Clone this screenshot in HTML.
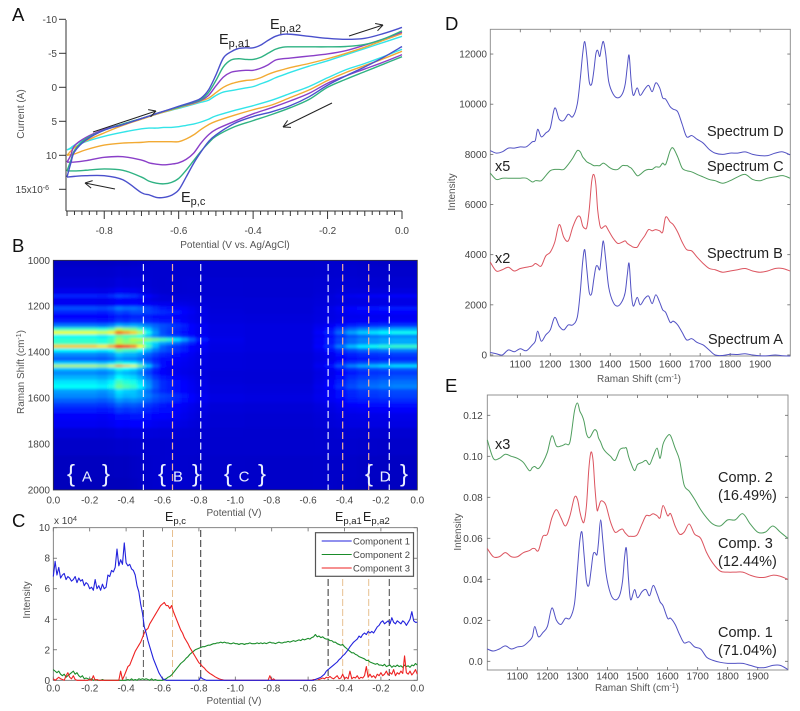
<!DOCTYPE html>
<html lang="en">
<head>
<meta charset="utf-8">
<title>Electrochemical SERS figure</title>
<style>
html,body{margin:0;padding:0;background:#fff;}
#figure{display:block;width:800px;height:711px;filter:blur(0.35px);font-family:"Liberation Sans",sans-serif;}
.tick{font-size:10px;fill:#444;}
.legend-text{font-size:9.5px;fill:#444;}
.title{font-size:10px;fill:#555;}
.big{font-size:18.5px;fill:#111;}
.ep{font-size:14.5px;fill:#222;}
.sub{font-size:11px;}
.ep-small{font-size:12.5px;fill:#222;}
.sub-small{font-size:9.5px;}
.note{font-size:14.5px;fill:#222;}
</style>
</head>
<body>
<svg id="figure" xmlns="http://www.w3.org/2000/svg" width="800" height="711" viewBox="0 0 800 711">
  <defs>
    <clipPath id="heat-clip"><rect x="53.3" y="260.3" width="364" height="229.7"/></clipPath>
    <filter id="heat-blur" x="-5%" y="-5%" width="110%" height="110%"><feGaussianBlur stdDeviation="1.6 1.2"/></filter>
  </defs>
  <rect x="0" y="0" width="800" height="711" fill="#fff"/>
  <g id="panel-a">
    <text class="big" x="12" y="21">A</text>
    <text class="title" transform="translate(24,114) rotate(-90)" text-anchor="middle">Current (A)</text>
    <text class="title" x="235" y="248" text-anchor="middle">Potential (V vs. Ag/AgCl)</text>
    <text class="ep" x="219" y="44">E<tspan class="sub" dy="3">p,a1</tspan></text>
    <text class="ep" x="270" y="29">E<tspan class="sub" dy="3">p,a2</tspan></text>
    <text class="ep" x="181" y="202">E<tspan class="sub" dy="3">p,c</tspan></text>
  </g>
  <g id="panel-b">
    <text class="big" x="12" y="252">B</text>
    <text class="title" transform="translate(24,372) rotate(-90)" text-anchor="middle">Raman Shift (cm<tspan dy="-3" font-size="7">-1</tspan><tspan dy="3">)</tspan></text>
    <text class="title" x="234" y="516" text-anchor="middle">Potential (V)</text>
  </g>
  <g id="panel-c">
    <text class="big" x="12" y="527">C</text>
    <text class="tick" x="54" y="524">x 10<tspan dy="-3" font-size="7.5">4</tspan></text>
    <text class="title" transform="translate(30,600) rotate(-90)" text-anchor="middle">Intensity</text>
    <text class="title" x="234" y="704" text-anchor="middle">Potential (V)</text>
    <text class="ep-small" x="165" y="521">E<tspan class="sub-small" dy="3">p,c</tspan></text>
    <text class="ep-small" x="335" y="521">E<tspan class="sub-small" dy="3">p,a1</tspan></text>
    <text class="ep-small" x="363" y="521">E<tspan class="sub-small" dy="3">p,a2</tspan></text>
  </g>
  <g id="panel-d">
    <text class="big" x="445" y="30">D</text>
    <text class="title" transform="translate(455,192) rotate(-90)" text-anchor="middle">Intensity</text>
    <text class="title" x="639" y="382" text-anchor="middle">Raman Shift (cm<tspan dy="-3" font-size="7">-1</tspan><tspan dy="3">)</tspan></text>
    <text class="note" x="707" y="136">Spectrum D</text>
    <text class="note" x="707" y="171">Spectrum C</text>
    <text class="note" x="707" y="258">Spectrum B</text>
    <text class="note" x="708" y="344">Spectrum A</text>
    <text class="note" x="495" y="171">x5</text>
    <text class="note" x="495" y="263">x2</text>
  </g>
  <g id="panel-e">
    <text class="big" x="445" y="392">E</text>
    <text class="title" transform="translate(461,532) rotate(-90)" text-anchor="middle">Intensity</text>
    <text class="title" x="637" y="691" text-anchor="middle">Raman Shift (cm<tspan dy="-3" font-size="7">-1</tspan><tspan dy="3">)</tspan></text>
    <text class="note" x="718" y="482">Comp. 2</text>
    <text class="note" x="718" y="500">(16.49%)</text>
    <text class="note" x="718" y="548">Comp. 3</text>
    <text class="note" x="718" y="566">(12.44%)</text>
    <text class="note" x="718" y="637">Comp. 1</text>
    <text class="note" x="718" y="655">(71.04%)</text>
    <text class="note" x="495" y="449">x3</text>
  </g>
</svg>
<script>
// ---------- Panel A data (cyclic voltammograms, current in 1e-6 A) ----------
const cvForwardPotential = [-0.9,-0.89,-0.88,-0.85,-0.8,-0.75,-0.7,-0.65,-0.6,-0.56,-0.54,-0.52,-0.5,-0.48,-0.46,-0.44,-0.42,-0.4,-0.38,-0.36,-0.34,-0.32,-0.3,-0.25,-0.2,-0.15,-0.1,-0.05,0];
const cvReversePotential = [0,-0.05,-0.1,-0.15,-0.2,-0.25,-0.3,-0.35,-0.4,-0.45,-0.5,-0.52,-0.54,-0.56,-0.58,-0.6,-0.62,-0.64,-0.66,-0.68,-0.7,-0.75,-0.8,-0.85,-0.88,-0.9];
const cvCyanForward = [9.2,8.9,8.5,7.6,6.3,5.4,4.6,3.8,3.1,2.5,2.2,1.9,1.2,0.7,0.5,0.3,0.1,-0.1,-0.5,-0.9,-1.4,-1.8,-2.2,-3.1,-3.9,-4.8,-5.7,-6.6,-7.5];
const cvCyanReverse = [-5.6,-4.5,-3.5,-2.6,-1.4,-0.1,0.9,1.9,2.7,3.4,4.2,4.7,5.1,5.4,5.6,5.8,5.9,5.9,6,6,6.1,6.6,7.2,8,8.8,9.2];
const cvOrangeForward = [10,9.4,8.9,7.9,6.7,5.6,4.7,3.8,3,2.4,2,1.6,0.8,0,-0.5,-0.8,-1,-1.1,-1.4,-1.9,-2.3,-2.6,-2.9,-3.5,-4.2,-5,-5.9,-6.9,-7.9];
const cvOrangeReverse = [-5.3,-4.2,-3.2,-2.2,-1,0.4,1.5,2.6,3.3,4.1,5,5.5,6.2,7,7.6,8,8,8,8,8,8.1,8.2,8.5,9.2,9.8,10];
const cvPurpleForward = [11,10,8.6,7.4,6.2,5.4,4.6,3.7,2.9,2.3,1.9,1.2,-0.2,-1.5,-2.2,-2.4,-2.5,-2.5,-2.8,-3.3,-4,-4.2,-4.3,-4.6,-4.9,-5.4,-6.2,-7.1,-8.1];
const cvPurpleReverse = [-4.8,-3.7,-2.7,-1.7,-0.6,0.9,2,3,3.9,5,6.2,7,8.2,9.7,10.6,11.1,11.3,11.4,11.3,11.1,10.7,10.2,10.3,10.8,11,11];
const cvGreenForward = [12.3,10.8,9.3,7.6,6.3,5.4,4.6,3.7,2.9,2.2,1.8,0.8,-1,-3,-4,-4.2,-4.1,-4.1,-4.4,-5,-5.6,-5.9,-5.95,-5.95,-5.95,-6,-6.3,-7.1,-8.3];
const cvGreenReverse = [-4.5,-3.4,-2.3,-1.2,0,1.8,3,4,4.9,5.8,7.2,8.2,9.4,10.8,12.2,13.4,14,14.2,14.1,13.8,13.2,12.2,12,12.2,12.3,12.3];
const cvBlueForward = [13.2,11.2,9.5,7.8,6.3,5.5,4.6,3.7,2.8,2.1,1.6,0.4,-1.8,-4.3,-5.2,-5.7,-5.8,-5.8,-6.2,-6.9,-7.5,-7.8,-7.8,-7.5,-7.2,-7.05,-7.2,-7.9,-8.8];
const cvBlueReverse = [-6,-4.4,-3,-1.7,-0.3,1.4,2.7,3.6,4.3,5.3,7,8,9.5,11.2,13.2,15.1,15.9,16.2,16.2,15.8,15.5,13.6,13,13,13.1,13.2];
const cvYTicks = [-10,-5,0,5,10,15];
const cvXTicks = [-0.8,-0.6,-0.4,-0.2,0];

// ---------- Panel B data (heatmap rows, columns and factor profiles) ----------
const heatRaman = [1000,1050,1100,1140,1155,1170,1190,1210,1225,1245,1265,1285,1300,1315,1330,1345,1360,1375,1390,1410,1430,1450,1460,1470,1490,1510,1530,1550,1570,1590,1610,1630,1650,1680,1710,1750,1800,1900,2000];
const heatProfile1 = [0.01,0.02,0.03,0.05,0.11,0.06,0.06,0.15,0.11,0.08,0.1,0.19,0.38,0.56,0.32,0.37,0.38,0.63,0.32,0.21,0.17,0.28,0.52,0.27,0.21,0.25,0.3,0.33,0.23,0.21,0.17,0.13,0.1,0.07,0.06,0.03,0.015,0.005,0];
const heatProfile3 = [0.02,0.02,0.02,0.02,0.03,0.03,0.05,0.09,0.11,0.08,0.09,0.14,0.13,0.12,0.15,0.38,0.22,0.14,0.14,0.1,0.08,0.07,0.07,0.06,0.06,0.08,0.1,0.1,0.1,0.13,0.12,0.09,0.08,0.07,0.05,0.03,0.02,0.02,0.02];
const heatProfile2 = [0.02,0.02,0.025,0.025,0.025,0.03,0.03,0.03,0.03,0.035,0.035,0.04,0.04,0.04,0.04,0.04,0.04,0.04,0.04,0.035,0.035,0.035,0.035,0.035,0.03,0.03,0.03,0.035,0.035,0.04,0.04,0.03,0.03,0.025,0.025,0.02,0.02,0.015,0.015];
const heatScan = [0,0.1,0.2,0.28,0.32,0.36,0.4,0.44,0.48,0.52,0.56,0.6,0.64,0.68,0.72,0.76,0.8,0.9,1.2,1.4,1.46,1.52,1.58,1.64,1.7,1.76,1.82,1.9,2];
const heatWeight1 = [1,1,1,0.95,1.05,1.3,1.2,1.05,0.8,0.45,0.2,0.05,0,0,0,0,0,0,0,0,0.05,0.12,0.25,0.36,0.45,0.5,0.55,0.57,0.57];
const heatWeight3 = [0,0,0,0,0,0,0,0.3,0.55,0.8,0.95,1,0.95,0.75,0.55,0.35,0.18,0.03,0,0,0.03,0.05,0.05,0.05,0.05,0.05,0.05,0.05,0.05];
const heatWeight2 = [0,0,0,0,0,0,0,0,0,0,0,0.05,0.2,0.4,0.6,0.8,0.9,1,1,1,1,0.9,0.8,0.7,0.5,0.4,0.3,0.3,0.3];
const ramanAxisTicks = [1000,1200,1400,1600,1800,2000];
const scanTickLabels = ['0.0','-0.2','-0.4','-0.6','-0.8','-1.0','-0.8','-0.6','-0.4','-0.2','0.0'];
const heatBoundaryScans = [0.495,0.81,1.51,1.846];
const heatPeakScans = [0.655,1.59,1.733];

// ---------- Panel C data (component intensity in 1e4, scan step 0.01 V) ----------
const component1 = [
6.8,7.8,6.9,7.4,6.7,6.9,7.0,6.6,6.8,6.7,
6.5,6.6,6.8,6.4,6.7,6.5,6.6,6.2,6.4,6.3,
6.0,6.1,5.9,6.6,6.0,6.2,5.9,6.3,6.0,6.1,
6.9,6.8,7.2,7.1,7.4,8.6,7.5,7.9,7.6,9.0,
7.7,7.5,7.6,7.3,7.2,6.9,6.2,5.8,5.0,4.4,
3.5,3.1,2.6,2.2,1.8,1.4,1.1,0.8,0.5,0.3,
0.1,0.05,0,0,0,0,0,0,0,0,
0,0,0,0,0,0,0,0,0,0,
0,0.2,0.1,0.05,0,0,0,0,0,0,
0,0,0,0,0,0,0,0,0,0,
0,0,0,0,0,0,0,0,0,0,
0,0,0,0,0,0,0,0,0,0,
0,0,0,0,0,0,0,0,0,0,
0,0,0,0,0,0,0,0,0,0,
0,0,0,0,0.05,0.1,0.15,0.2,0.3,0.4,
0.6,0.7,0.8,0.9,1.0,1.1,1.2,1.35,1.45,1.6,
1.7,1.85,2.0,2.2,2.35,2.5,2.6,2.7,2.9,2.8,
3.0,3.1,3.0,3.2,3.1,3.2,3.1,3.3,3.5,3.6,
3.8,3.9,3.7,3.8,3.9,3.7,4.1,3.8,3.7,3.9,
3.8,3.7,3.9,3.8,3.6,3.8,4.0,4.5,3.9,3.8,
3.8];
const component2 = [
0.7,0.6,0.5,0.6,0.4,0.3,0.4,0.2,0.3,0.4,
0.5,0.6,0.4,0.5,0.3,0.2,0.3,0.1,0.15,0.1,
0.05,0.1,0,0.05,0,0,0,0.05,0,0,
0,0,0,0,0,0,0,0,0,0,
0,0.05,0,0.1,0,0.05,0,0.1,0.05,0.1,
0.05,0.1,0.05,0,0.1,0,0.05,0,0,0,
0,0.05,0.1,0.2,0.25,0.35,0.5,0.65,0.8,0.95,
1.1,1.2,1.3,1.45,1.55,1.7,1.8,1.9,2.0,2.05,
2.1,2.15,2.2,2.2,2.25,2.3,2.3,2.35,2.4,2.4,
2.45,2.45,2.5,2.45,2.5,2.45,2.45,2.4,2.4,2.45,
2.4,2.4,2.35,2.4,2.4,2.35,2.4,2.4,2.45,2.4,
2.4,2.4,2.45,2.4,2.45,2.4,2.45,2.4,2.45,2.5,
2.45,2.45,2.4,2.45,2.5,2.45,2.45,2.5,2.5,2.55,
2.5,2.55,2.6,2.55,2.6,2.65,2.6,2.7,2.65,2.7,
2.75,2.7,2.8,2.85,3.0,2.85,2.9,2.8,2.85,2.75,
2.7,2.7,2.6,2.6,2.5,2.5,2.4,2.35,2.3,2.35,
2.2,2.1,2.0,1.9,1.8,1.8,1.7,1.65,1.55,1.5,
1.45,1.4,1.3,1.3,1.2,1.15,1.1,1.05,1.1,1.0,
1.0,0.95,1.05,0.9,0.95,1.0,0.85,0.95,0.9,1.0,
0.9,0.95,0.85,1.0,0.9,0.95,0.85,1.0,0.95,1.1,
1.0];
const component3 = [
0.1,0,0.1,0.2,0.1,0.05,0,0.3,0.5,0.2,
0.1,0.3,0.05,0,0,0,0,0,0,0,
0.05,0,0.3,0,0.05,0,0,0,0,0,
0,0,0,0,0,0,0,0.6,0.05,0.3,
0.6,0.9,1.0,1.3,1.6,1.9,2.1,2.3,2.5,2.8,
3.1,3.3,3.4,3.7,3.9,4.1,4.3,4.5,4.7,4.9,
5.0,5.1,4.9,4.9,4.7,4.9,4.5,4.2,3.9,3.6,
3.3,3.1,2.8,2.6,2.4,2.15,1.95,1.75,1.55,1.35,
1.15,1.05,0.9,0.8,0.65,0.55,0.45,0.38,0.3,0.22,
0.16,0.1,0.06,0.03,0,0,0,0,0,0,
0,0,0,0,0,0,0,0,0,0,
0,0,0,0,0,0,0,0,0,0.3,
0,0.1,0,0,0,0,0,0,0,0,
0,0,0,0,0,0,0,0,0,0,
0,0,0,0.05,0.05,0.1,0.05,0.1,0.15,0.1,
0.2,0.15,0.25,0.15,0.1,0.2,0.3,0.1,0.15,0.4,
0.1,0.2,0.1,0.6,0.1,0.2,0.15,0.3,0.1,0.2,
0.15,0.3,0.9,0.2,0.4,0.2,0.3,0.15,0.4,0.3,
0.5,0.3,0.4,0.6,0.35,0.5,0.4,0.7,0.3,0.5,
0.4,0.6,0.45,1.6,0.5,0.4,0.6,0.35,0.5,0.7,
0.4];
const componentNames = ['Component 1','Component 2','Component 3'];
const componentYTicks = [0,2,4,6,8,10];

// ---------- Panels D and E data ----------
const ramanShift = [
1000,1020,1040,1060,1080,1100,1120,1140,1150,1158,
1170,1185,1200,1215,1230,1245,1260,1275,1290,1300,
1308,1315,1322,1330,1338,1345,1352,1358,1365,1370,
1377,1385,1395,1410,1425,1440,1450,1457,1463,1470,
1477,1490,1500,1515,1528,1540,1552,1565,1575,1585,
1600,1610,1625,1640,1655,1672,1690,1710,1730,1750,
1775,1800,1825,1850,1875,1900,1925,1950,1975,2000];
const spectrumD = [
8150,8050,8100,8250,8250,8300,8300,8500,8550,9000,
8700,8850,9050,9850,9400,9350,9600,9500,10000,11000,
12000,12500,11900,10900,10800,11300,12000,12150,11900,12200,
12500,12000,10900,10400,10250,10400,10800,11500,11950,10900,
10350,10650,10350,10600,10750,10500,10850,10650,10250,10200,
9900,9800,9700,9200,8700,8750,8600,8450,8200,8050,
8000,8050,8050,8100,8000,7950,7950,8050,8100,7980];
const spectrumC = [
7250,7000,7050,7050,7050,7050,7050,6900,6950,6950,
6950,7150,7350,7400,7400,7400,7600,7850,8150,8100,
7900,7800,7700,7650,7600,7550,7550,7550,7550,7600,
7650,7600,7500,7400,7400,7550,7550,7550,7500,7450,
7350,7150,7200,7350,7400,7400,7500,7500,7650,7600,
8150,8250,7900,7450,7350,7300,7200,7100,7000,6950,
6850,6950,7100,7200,7000,6950,7050,7100,7150,7050];
const spectrumB = [
3700,3350,3400,3500,3350,3450,3500,3550,3650,3600,
3550,3950,4100,4500,5200,4700,4550,5100,5500,5500,
5150,5050,5100,5800,6900,7200,6800,5800,5200,5050,
5100,5150,4950,4650,4450,4500,4550,4450,4400,4350,
4300,4300,4500,4750,5000,4950,5000,4950,4900,5500,
5300,5200,4900,4500,4200,4150,3900,3650,3450,3400,
3300,3350,3400,3450,3350,3300,3350,3450,3450,3350];
const spectrumA = [
100,50,0,200,130,250,170,400,550,950,
550,800,1000,1500,1150,1000,1200,1200,1500,2500,
3700,4200,3400,2500,2450,3000,3500,3550,3400,3900,
4550,3800,2700,2100,1950,2150,2500,3200,3650,2500,
1950,2300,2000,2250,2350,2050,2400,2100,1800,1700,
1300,1350,1200,900,600,650,500,400,200,0,
-20,30,20,50,0,-30,-30,0,-30,-40];
const compSpectrum2 = [
0.108,0.099,0.099,0.101,0.1,0.099,0.097,0.093,0.0945,0.095,
0.094,0.097,0.102,0.11,0.105,0.105,0.106,0.107,0.122,0.126,
0.122,0.12,0.117,0.111,0.109,0.11,0.112,0.113,0.112,0.109,
0.107,0.104,0.102,0.1,0.098,0.103,0.104,0.104,0.104,0.1,
0.097,0.093,0.096,0.097,0.098,0.096,0.1,0.104,0.099,0.106,
0.11,0.11,0.104,0.098,0.086,0.083,0.079,0.074,0.07,0.067,
0.066,0.069,0.069,0.072,0.067,0.063,0.063,0.066,0.063,0.06];
const compSpectrum3 = [
0.055,0.051,0.051,0.053,0.051,0.051,0.053,0.054,0.055,0.055,
0.054,0.061,0.062,0.07,0.074,0.07,0.066,0.071,0.08,0.079,
0.073,0.069,0.068,0.076,0.094,0.102,0.098,0.085,0.074,0.075,
0.078,0.078,0.076,0.068,0.063,0.064,0.0645,0.063,0.062,0.061,
0.061,0.061,0.062,0.067,0.071,0.071,0.072,0.071,0.07,0.076,
0.071,0.072,0.066,0.062,0.063,0.067,0.062,0.06,0.053,0.048,
0.044,0.0435,0.0435,0.0435,0.042,0.041,0.041,0.042,0.0415,0.04];
const compSpectrum1 = [
0.006,0.005,0.006,0.0075,0.006,0.007,0.0075,0.01,0.012,0.017,
0.012,0.014,0.017,0.026,0.02,0.018,0.021,0.021,0.028,0.045,
0.059,0.063,0.052,0.039,0.037,0.044,0.052,0.053,0.052,0.058,
0.069,0.058,0.043,0.033,0.03,0.032,0.039,0.051,0.055,0.04,
0.03,0.035,0.031,0.034,0.035,0.032,0.037,0.033,0.029,0.027,
0.021,0.021,0.018,0.013,0.009,0.0095,0.007,0.006,0.002,0.0005,
-0.0005,-0.001,-0.001,-0.001,-0.002,-0.003,-0.003,-0.002,-0.002,-0.004];
const ramanXTicks = [1100,1200,1300,1400,1500,1600,1700,1800,1900];
const spectrumYTicks = [0,2000,4000,6000,8000,10000,12000];
const compYTicks = [0,0.02,0.04,0.06,0.08,0.1,0.12];

// ---------- Axis functions ----------
const xCv = e => 402 + e * 372.2;
const yCv = i => 87.3 + i * 6.8;
const xScan = s => 53.3 + s * 182;
const yRaman = w => 260.3 + (w - 1000) * 0.2297;
const yComp = v => 680.3 - v * 15.26;
const xSpecD = w => 490.3 + (w - 1000) * 0.2998;
const ySpecD = v => 355 - v * 0.02508;
const xSpecE = w => 487.3 + (w - 1000) * 0.3005;
const ySpecE = v => 661.3 - v * 2050;

// ---------- Drawing helpers ----------
const NS = 'http://www.w3.org/2000/svg';
function make(tag, parent, attrs, name) {
  const el = document.createElementNS(NS, tag);
  for (const k in attrs) el.setAttribute(k, attrs[k]);
  
  
  parent.appendChild(el);
  return el;
}
function label(parent, x, y, str, anchor, cls, name) {
  const t = make('text', parent, {x: x, y: y, 'text-anchor': anchor, class: cls}, name);
  t.textContent = str;
  return t;
}
function line(parent, x1, y1, x2, y2, stroke, width, name, dash) {
  const a = {x1: x1, y1: y1, x2: x2, y2: y2, stroke: stroke, 'stroke-width': width};
  if (dash) a['stroke-dasharray'] = dash;
  return make('line', parent, a, name);
}
function polyline(parent, xs, ys, fx, fy, stroke, width, name) {
  const pts = xs.map((v, i) => fx(v).toFixed(2) + ',' + fy(ys[i]).toFixed(2)).join(' ');
  return make('polyline', parent, {points: pts, fill: 'none', stroke: stroke, 'stroke-width': width, 'stroke-linejoin': 'round'}, name);
}
function smoothPath(parent, xs, ys, fx, fy, stroke, width, name) {
  const p = xs.map((v, i) => [fx(v), fy(ys[i])]);
  let d = 'M' + p[0][0].toFixed(2) + ' ' + p[0][1].toFixed(2);
  for (let i = 0; i < p.length - 1; i++) {
    const a = p[Math.max(i - 1, 0)], b = p[i], c = p[i + 1], e = p[Math.min(i + 2, p.length - 1)];
    d += ' C' + (b[0] + (c[0] - a[0]) / 6).toFixed(2) + ' ' + (b[1] + (c[1] - a[1]) / 6).toFixed(2) + ' ' +
      (c[0] - (e[0] - b[0]) / 6).toFixed(2) + ' ' + (c[1] - (e[1] - b[1]) / 6).toFixed(2) + ' ' +
      c[0].toFixed(2) + ' ' + c[1].toFixed(2);
  }
  return make('path', parent, {d: d, fill: 'none', stroke: stroke, 'stroke-width': width}, name);
}
function arrow(parent, x1, y1, x2, y2, name) {
  const g = make('g', parent, {}, name);
  line(g, x1, y1, x2, y2, '#222', 1, name + '-shaft');
  const ang = Math.atan2(y2 - y1, x2 - x1), len = 8;
  [0.5, -0.5].forEach(da => {
    line(g, x2, y2, x2 - len * Math.cos(ang + da), y2 - len * Math.sin(ang + da), '#222', 1, name + '-head');
  });
}

// ---------- Panel A ----------
const pa = document.getElementById('panel-a');
line(pa, 66, 20, 66, 211, '#333', 1, 'panel-a-y-axis');
line(pa, 66, 211, 402, 211, '#333', 1, 'panel-a-x-axis');
cvYTicks.forEach(v => {
  line(pa, 59, yCv(v), 66, yCv(v), '#333', 1, 'panel-a-y-tick');
  const s = v === 15 ? '15x10' : String(v);
  const t = label(pa, v === 15 ? 49 : 57, yCv(v) + 3.5, s, 'end', 'tick', 'panel-a-y-tick-label');
  if (v === 15) {
    const sup = make('tspan', t, {dy: -3, 'font-size': 7}, 'panel-a-y-exponent');
    sup.textContent = '-6';
  }
});
for (let k = 0; k <= 45; k++) {
  const e = -0.9 + k * 0.02;
  const major = k % 10 === 5;
  const mid = k % 10 === 0;
  line(pa, xCv(e), 211, xCv(e), 211 + (major ? 8 : mid ? 5 : 4), '#333', 1, 'panel-a-x-tick');
}
cvXTicks.forEach(v => {
  label(pa, xCv(v), 234, v.toFixed(1), 'middle', 'tick', 'panel-a-x-tick-label');
});
const cvSeries = [
  ['cyan', '#33e4e8', cvCyanForward, cvCyanReverse],
  ['orange', '#f2aa33', cvOrangeForward, cvOrangeReverse],
  ['purple', '#8a3fc8', cvPurpleForward, cvPurpleReverse],
  ['green', '#2fb283', cvGreenForward, cvGreenReverse],
  ['blue', '#4a50cc', cvBlueForward, cvBlueReverse]
];
cvSeries.forEach(s => {
  smoothPath(pa, cvForwardPotential, s[2], xCv, yCv, s[1], 1.4, 'cv-' + s[0] + '-forward');
  smoothPath(pa, cvReversePotential, s[3], xCv, yCv, s[1], 1.4, 'cv-' + s[0] + '-reverse');
});
arrow(pa, 93, 132, 156, 111, 'scan-arrow-forward');
arrow(pa, 349, 36, 383, 25, 'scan-arrow-upper-right');
arrow(pa, 332, 103, 283, 127, 'scan-arrow-reverse');
arrow(pa, 115, 189, 85, 183, 'scan-arrow-lower-left');

// ---------- Panel B ----------
const pb = document.getElementById('panel-b');
function jet(v) {
  v = Math.max(0, Math.min(1, v));
  const stops = [[0, 0, 0, 143], [0.125, 0, 0, 255], [0.375, 0, 255, 255], [0.625, 255, 255, 0], [0.875, 255, 0, 0], [1, 128, 0, 0]];
  for (let i = 0; i < stops.length - 1; i++) {
    const a = stops[i], b = stops[i + 1];
    if (v <= b[0]) {
      const t = (v - a[0]) / (b[0] - a[0]);
      return 'rgb(' + [1, 2, 3].map(j => Math.round(a[j] + (b[j] - a[j]) * t)).join(',') + ')';
    }
  }
  return 'rgb(128,0,0)';
}
const clipG = make('g', pb, {'clip-path': 'url(#heat-clip)'}, 'heatmap-clip-region');
make('rect', clipG, {x: 53.3, y: 260.3, width: 364, height: 229.7, fill: '#0000c8'}, 'heatmap-background');
const heatG = make('g', clipG, {filter: 'url(#heat-blur)'}, 'heatmap-cells');
function edges(values, scale) {
  const out = [];
  for (let i = 0; i <= values.length; i++) {
    if (i === 0) out.push(scale(values[0]) - 8);
    else if (i === values.length) out.push(scale(values[i - 1]) + 8);
    else out.push((scale(values[i - 1]) + scale(values[i])) / 2);
  }
  return out;
}
const colEdges = edges(heatScan, xScan);
const rowEdges = edges(heatRaman, yRaman);
heatRaman.forEach((w, r) => {
  heatScan.forEach((s, c) => {
    const v = 0.05 + heatWeight1[c] * heatProfile1[r] + heatWeight3[c] * heatProfile3[r] + heatWeight2[c] * heatProfile2[r];
    make('rect', heatG, {
      x: colEdges[c].toFixed(2), y: rowEdges[r].toFixed(2),
      width: (colEdges[c + 1] - colEdges[c] + 0.4).toFixed(2),
      height: (rowEdges[r + 1] - rowEdges[r] + 0.4).toFixed(2),
      fill: jet(v)
    }, 'heatmap-cell');
  });
});
make('rect', pb, {x: 53.3, y: 260.3, width: 364, height: 229.7, fill: 'none', stroke: '#333', 'stroke-width': 0.8}, 'heatmap-frame');
ramanAxisTicks.forEach(w => {
  label(pb, 50, yRaman(w) + 3.5, String(w), 'end', 'tick', 'panel-b-y-tick-label');
});
scanTickLabels.forEach((t, i) => {
  label(pb, xScan(i * 0.2), 503.5, t, 'middle', 'tick', 'panel-b-x-tick-label');
});
heatBoundaryScans.forEach(s => {
  line(pb, xScan(s), 264, xScan(s), 490, '#e4eaff', 1.2, 'region-boundary-line', '7 3.5');
});
heatPeakScans.forEach(s => {
  line(pb, xScan(s), 264, xScan(s), 490, '#f0b09a', 1.2, 'peak-potential-line', '7 3.5');
});
[['A', 71, 87, 106], ['B', 162, 178, 196], ['C', 228, 244, 262], ['D', 369, 385, 404]].forEach(r => {
  const base = 481.5;
  const o = make('text', pb, {x: r[1], y: base, 'text-anchor': 'middle', 'font-size': 24, fill: '#e8eeff'}, 'region-' + r[0] + '-open-brace');
  o.textContent = '{';
  const m = make('text', pb, {x: r[2], y: base, 'text-anchor': 'middle', 'font-size': 15, fill: '#e8eeff'}, 'region-' + r[0] + '-label');
  m.textContent = r[0];
  const c = make('text', pb, {x: r[3], y: base, 'text-anchor': 'middle', 'font-size': 24, fill: '#e8eeff'}, 'region-' + r[0] + '-close-brace');
  c.textContent = '}';
});

// ---------- Panel C ----------
const pc = document.getElementById('panel-c');
make('rect', pc, {x: 53.3, y: 527.7, width: 364, height: 152.6, fill: '#fff', stroke: '#666', 'stroke-width': 0.8}, 'panel-c-frame');
componentYTicks.forEach(v => {
  label(pc, 50, yComp(v) + 3.5, String(v), 'end', 'tick', 'panel-c-y-tick-label');
  line(pc, 53.3, yComp(v), 57, yComp(v), '#666', 0.8, 'panel-c-y-tick');
  line(pc, 417.3, yComp(v), 413.6, yComp(v), '#666', 0.8, 'panel-c-y-tick-right');
});
scanTickLabels.forEach((t, i) => {
  label(pc, xScan(i * 0.2), 691.5, t, 'middle', 'tick', 'panel-c-x-tick-label');
  line(pc, xScan(i * 0.2), 680.3, xScan(i * 0.2), 676.6, '#666', 0.8, 'panel-c-x-tick');
  line(pc, xScan(i * 0.2), 527.7, xScan(i * 0.2), 531.4, '#666', 0.8, 'panel-c-x-tick-top');
});
const traceScan = component1.map((_, i) => i * 0.01);
[[0.495, 530, '#555', 'left-boundary'], [0.655, 530, '#e8c090', 'ep-c'], [0.81, 530, '#333', 'right-boundary'],
 [1.51, 579, '#333', 'ep-boundary'], [1.59, 579, '#e8c090', 'ep-a1'], [1.733, 579, '#e8c090', 'ep-a2'], [1.846, 579, '#444', 'end-boundary']].forEach(d => {
  line(pc, xScan(d[0]), d[1], xScan(d[0]), 680, d[2], 1, 'marker-line-' + d[3], '7 3');
});
polyline(pc, traceScan, component2, xScan, yComp, '#1a8c2a', 1.1, 'trace-component-2');
polyline(pc, traceScan, component3, xScan, yComp, '#ee2222', 1.1, 'trace-component-3');
polyline(pc, traceScan, component1, xScan, yComp, '#2222dd', 1.1, 'trace-component-1');
const legend = make('g', pc, {}, 'panel-c-legend');
make('rect', legend, {x: 315.5, y: 532.7, width: 98, height: 43.6, fill: '#fff', stroke: '#555', 'stroke-width': 1.2}, 'legend-box');
['#2222dd', '#1a8c2a', '#ee2222'].forEach((c, i) => {
  const y = 541 + i * 13.5;
  line(legend, 321.7, y, 351.7, y, c, 1, 'legend-line');
  label(legend, 353, y + 3.5, componentNames[i], 'start', 'legend-text', 'legend-entry');
});

// ---------- Panel D ----------
function frameSpectra(parent, prefix, x0, y0, w, h, xScale, yScale, yTicks, yFmt, ylabX, xlabY) {
  make('rect', parent, {x: x0, y: y0, width: w, height: h, fill: 'none', stroke: '#888', 'stroke-width': 0.9}, prefix + '-frame');
  ramanXTicks.forEach(v => {
    line(parent, xScale(v), y0 + h, xScale(v), y0 + h - 3, '#666', 0.8, prefix + '-x-tick');
    line(parent, xScale(v), y0, xScale(v), y0 + 3, '#666', 0.8, prefix + '-x-tick-top');
    label(parent, xScale(v), xlabY, String(v), 'middle', 'tick', prefix + '-x-tick-label');
  });
  yTicks.forEach(v => {
    line(parent, x0, yScale(v), x0 + 3, yScale(v), '#666', 0.8, prefix + '-y-tick');
    line(parent, x0 + w, yScale(v), x0 + w - 3, yScale(v), '#666', 0.8, prefix + '-y-tick-right');
    label(parent, ylabX, yScale(v) + 3.5, yFmt(v), 'end', 'tick', prefix + '-y-tick-label');
  });
}
const pd = document.getElementById('panel-d');
frameSpectra(pd, 'panel-d', 490.3, 29.3, 300, 326.7, xSpecD, ySpecD, spectrumYTicks, v => String(v), 487, 367.5);
smoothPath(pd, ramanShift, spectrumD, xSpecD, ySpecD, '#5252c4', 1, 'spectrum-d-line');
smoothPath(pd, ramanShift, spectrumC, xSpecD, ySpecD, '#4f9e5e', 1, 'spectrum-c-line');
smoothPath(pd, ramanShift, spectrumB, xSpecD, ySpecD, '#dc5560', 1, 'spectrum-b-line');
smoothPath(pd, ramanShift, spectrumA, xSpecD, ySpecD, '#5252c4', 1, 'spectrum-a-line');

// ---------- Panel E ----------
const pe = document.getElementById('panel-e');
frameSpectra(pe, 'panel-e', 487.3, 395, 300.7, 275, xSpecE, ySpecE, compYTicks, v => (v === 0 ? '0.0' : v.toFixed(2)), 482.7, 679.5);
smoothPath(pe, ramanShift, compSpectrum2, xSpecE, ySpecE, '#4f9e5e', 1, 'comp-2-line');
smoothPath(pe, ramanShift, compSpectrum3, xSpecE, ySpecE, '#dc5560', 1, 'comp-3-line');
smoothPath(pe, ramanShift, compSpectrum1, xSpecE, ySpecE, '#5252c4', 1, 'comp-1-line');
</script>
</body>
</html>
